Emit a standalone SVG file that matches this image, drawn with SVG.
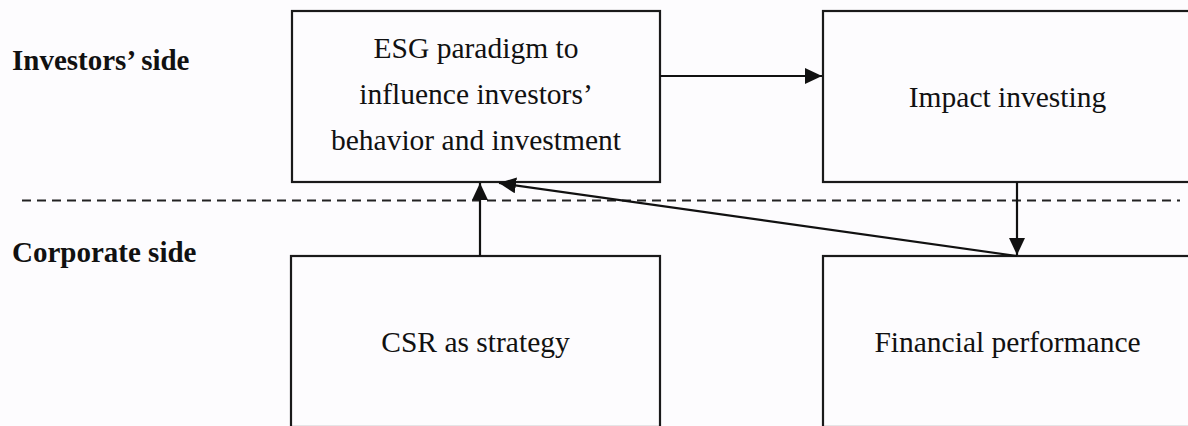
<svg xmlns="http://www.w3.org/2000/svg" width="1188" height="426" viewBox="0 0 1188 426">
<defs>
<style>
.box{fill:none;stroke:#1a1a1a;stroke-width:2.2}
.t{font-family:"Liberation Serif","Times New Roman",serif;font-size:29.5px;fill:#111;text-anchor:middle}
.lbl{font-family:"Liberation Serif","Times New Roman",serif;font-size:29px;font-weight:bold;fill:#111}
.conn{fill:none;stroke:#111;stroke-width:2.2}
.dash{fill:none;stroke:#222;stroke-width:2;stroke-dasharray:9,6}
</style>
<marker id="arr" viewBox="0 0 17 16" refX="17" refY="8" markerWidth="17" markerHeight="16" markerUnits="userSpaceOnUse" orient="auto">
<path d="M0,0 L17,8 L0,16 Z" fill="#111"/>
</marker>
</defs>
<rect width="1188" height="426" fill="#fdfcfe"/>
<text class="lbl" x="12" y="70">Investors’ side</text>
<text class="lbl" x="12" y="262">Corporate side</text>
<line class="dash" x1="22" y1="200.5" x2="1180" y2="200.5"/>
<g id="esg">
<rect class="box" x="292" y="11" width="368" height="171"/>
<text class="t" x="476" y="58">ESG paradigm to</text>
<text class="t" x="476" y="104">influence investors’</text>
<text class="t" x="476" y="150">behavior and investment</text>
</g>
<g id="impact">
<rect class="box" x="823" y="11" width="420" height="171"/>
<text class="t" x="1007.5" y="107">Impact investing</text>
</g>
<g id="csr">
<rect class="box" x="291" y="256" width="369" height="171"/>
<text class="t" x="475.5" y="352">CSR as strategy</text>
</g>
<g id="financial">
<rect class="box" x="823" y="256" width="420" height="171"/>
<text class="t" x="1007.5" y="352">Financial performance</text>
</g>
<g id="connectors">
<line class="conn" x1="660" y1="76" x2="822" y2="76" marker-end="url(#arr)"/>
<line class="conn" x1="480" y1="256" x2="480" y2="183" marker-end="url(#arr)"/>
<line class="conn" x1="1017" y1="182" x2="1017" y2="255" marker-end="url(#arr)"/>
<line class="conn" x1="1017" y1="256" x2="499" y2="183" marker-end="url(#arr)"/>
</g>
</svg>
